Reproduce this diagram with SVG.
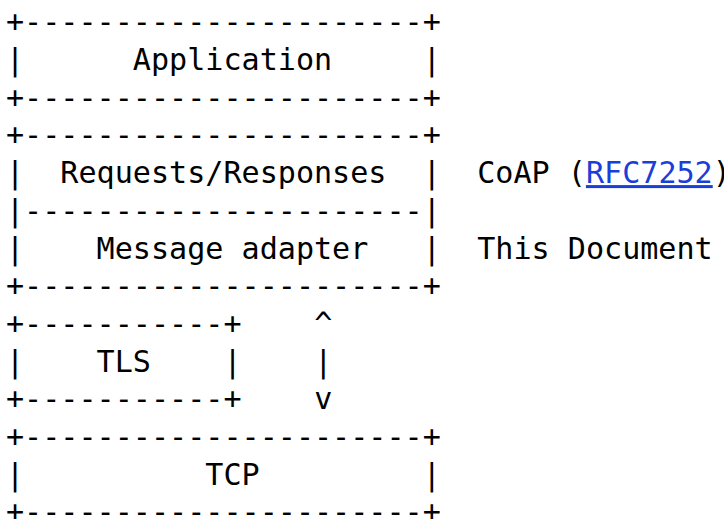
<svg xmlns="http://www.w3.org/2000/svg" width="724" height="519" viewBox="0 0 724 519">
<style>
text{font-family:"DejaVu Sans Mono","Liberation Mono",monospace;font-size:30.1px;fill:#000;white-space:pre}
.link{fill:#1a3fd8;text-decoration:underline}
</style>
<rect width="724" height="519" fill="#fff"/>
<g id="application">
<text x="6" y="32.3" xml:space="preserve">+----------------------+</text>
<text x="6" y="70" xml:space="preserve">|      Application     |</text>
<text x="6" y="107.7" xml:space="preserve">+----------------------+</text>
</g>
<g id="coap">
<text x="6" y="145.4" xml:space="preserve">+----------------------+</text>
<text x="6" y="183.1" xml:space="preserve">|  Requests/Responses  |</text>
<text x="6" y="220.8" xml:space="preserve">|----------------------|</text>
<text x="6" y="258.5" xml:space="preserve">|    Message adapter   |</text>
<text x="6" y="296.2" xml:space="preserve">+----------------------+</text>
</g>
<g id="labels">
<text x="477.2" y="183.1" xml:space="preserve">CoAP (<tspan class="link">RFC7252</tspan>)</text>
<text x="477.2" y="258.5">This Document</text>
</g>
<g id="tls">
<text x="6" y="333.9" xml:space="preserve">+-----------+</text>
<text x="6" y="371.6" xml:space="preserve">|    TLS    |</text>
<text x="6" y="409.3" xml:space="preserve">+-----------+</text>
</g>
<g id="connectors">
<text x="314.2" y="333.9">^</text>
<text x="314.2" y="371.6">|</text>
<text x="314.2" y="409.3">v</text>
</g>
<g id="tcp">
<text x="6" y="447" xml:space="preserve">+----------------------+</text>
<text x="6" y="484.7" xml:space="preserve">|          TCP         |</text>
<text x="6" y="522.4" xml:space="preserve">+----------------------+</text>
</g>
</svg>
